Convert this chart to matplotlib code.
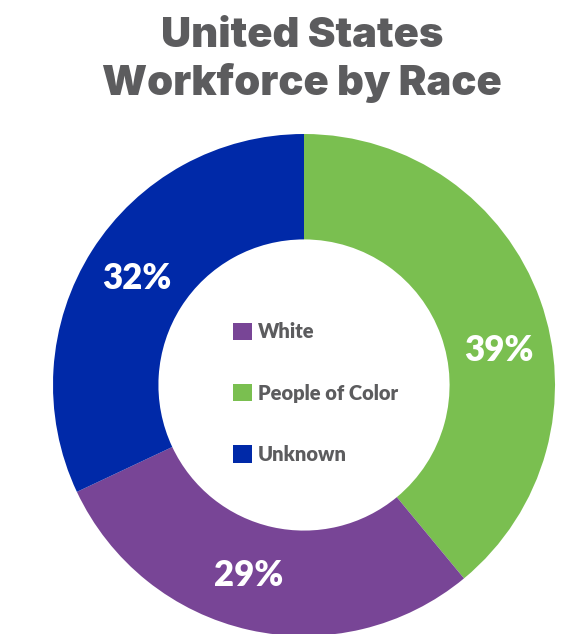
import matplotlib
matplotlib.use("Agg")
import matplotlib.pyplot as plt
import numpy as np
from matplotlib.patches import Patch

title = "United States\nWorkforce by Race"
pie_categories = ["People of Color", "White", "Unknown"]
pie_values = [39, 29, 32]
pie_colors = ["#7abf50", "#784596", "#0029a8"]
legend_order = ["White", "People of Color", "Unknown"]

# style: where along each wedge (0..1 of its sweep) the percent label sits
label_frac = [0.57, 0.535, 0.5]

W, H = 566, 634
fig = plt.figure(figsize=(W / 100, H / 100), dpi=100)
fig.patch.set_facecolor("white")

cx, cy, R = 304, 385, 251
ax = fig.add_axes([(cx - R) / W, (H - cy - R) / H, 2 * R / W, 2 * R / H])

wedges, texts, autotexts = ax.pie(
    pie_values, colors=pie_colors, startangle=90, counterclock=False,
    radius=1.0, wedgeprops=dict(width=0.42, edgecolor="none"),
    autopct=lambda p: f"{p:.0f}%", pctdistance=0.79,
    textprops=dict(color="white", fontsize=25, fontweight="heavy", family=["Lato", "DejaVu Sans"]),
)
for w, t, f in zip(wedges, autotexts, label_frac):
    # clockwise wedges: theta2 is the start, theta1 the end
    ang = np.deg2rad(w.theta2 - f * (w.theta2 - w.theta1))
    t.set_position((0.79 * np.cos(ang), 0.79 * np.sin(ang)))

ax.set_xlim(-1, 1)
ax.set_ylim(-1, 1)
ax.set_aspect("equal")
ax.axis("off")

fig.text(302 / W, 1 - 60 / H, title, ha="center", va="center", fontsize=30,
         fontweight="black", color="#5c5c5e", family=["Inter", "DejaVu Sans"],
         linespacing=1.22)

color_map = dict(zip(pie_categories, pie_colors))
handles = [Patch(facecolor=color_map[c], edgecolor="none", label=c) for c in legend_order]
leg = fig.legend(handles=handles, loc="center left",
                 bbox_to_anchor=(233 / W, 1 - 393 / H), frameon=False,
                 prop=dict(family=["Lato", "DejaVu Sans"], weight="heavy", size=14.5),
                 handlelength=0.95, handleheight=0.95, handletextpad=0.3,
                 labelspacing=2.1, borderpad=0, borderaxespad=0)
for t in leg.get_texts():
    t.set_color("#5c5c5e")

fig.savefig("out.png", dpi=100, facecolor="white")
